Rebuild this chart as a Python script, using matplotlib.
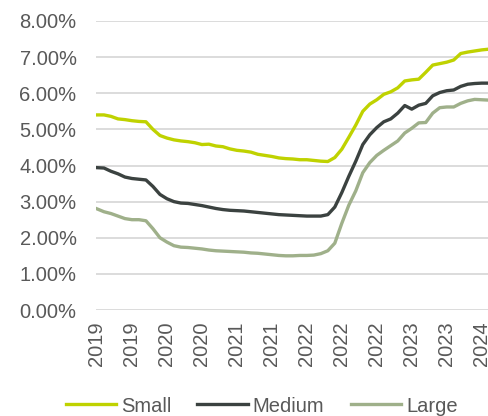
import numpy as np
import matplotlib
matplotlib.use('Agg')
import matplotlib.pyplot as plt

# monthly rates (%), Jul 2019 .. Mar 2024
small = [5.40, 5.40, 5.36, 5.29, 5.27, 5.24, 5.22, 5.21, 5.00, 4.83,
         4.76, 4.71, 4.68, 4.66, 4.63, 4.58, 4.59, 4.54, 4.52, 4.46,
         4.42, 4.40, 4.37, 4.31, 4.28, 4.25, 4.21, 4.19, 4.18, 4.16,
         4.16, 4.14, 4.12, 4.11, 4.22, 4.45, 4.78, 5.12, 5.50, 5.70,
         5.82, 5.97, 6.04, 6.15, 6.34, 6.37, 6.39, 6.58, 6.78, 6.82,
         6.86, 6.92, 7.10, 7.14, 7.17, 7.20, 7.22]
medium = [3.94, 3.93, 3.84, 3.77, 3.68, 3.64, 3.62, 3.60, 3.42, 3.20,
          3.08, 3.00, 2.96, 2.95, 2.92, 2.89, 2.85, 2.81, 2.78, 2.76,
          2.75, 2.74, 2.72, 2.70, 2.68, 2.66, 2.64, 2.63, 2.62, 2.61,
          2.60, 2.60, 2.60, 2.64, 2.85, 3.25, 3.70, 4.12, 4.58, 4.85,
          5.05, 5.21, 5.29, 5.45, 5.66, 5.56, 5.67, 5.72, 5.93, 6.02,
          6.07, 6.09, 6.19, 6.25, 6.27, 6.28, 6.28]
large = [2.80, 2.72, 2.67, 2.60, 2.53, 2.50, 2.50, 2.47, 2.25, 2.00,
         1.88, 1.78, 1.74, 1.73, 1.71, 1.69, 1.66, 1.64, 1.63, 1.62,
         1.61, 1.60, 1.58, 1.57, 1.55, 1.53, 1.51, 1.50, 1.50, 1.51,
         1.51, 1.52, 1.56, 1.64, 1.85, 2.40, 2.90, 3.30, 3.80, 4.08,
         4.28, 4.42, 4.55, 4.68, 4.90, 5.03, 5.18, 5.19, 5.45, 5.60,
         5.62, 5.62, 5.72, 5.79, 5.83, 5.82, 5.81]
tick_labels = ['2019', '2019', '2020', '2020', '2021', '2021',
               '2022', '2022', '2022', '2023', '2023', '2024']

x = np.arange(len(small))
fs = 14.5

fig = plt.figure(figsize=(4.88, 4.16), dpi=100)
ax = fig.add_axes([96/488, 1-310/416, 1-96/488, (310-21)/416])

ax.plot(x, small, color='#bfd200', lw=2.4, label='Small')
ax.plot(x, medium, color='#3b4240', lw=2.4, label='Medium')
ax.plot(x, large, color='#9fb08a', lw=2.4, label='Large')

ax.set_ylim(0, 8)
ax.set_xlim(-0.14, 55.9)
ax.set_yticks(np.arange(0, 9, 1))
ax.set_yticklabels(['%.2f%%' % v for v in range(9)], family='Liberation Sans')
ax.set_xticks(x[::5][:len(tick_labels)])
ax.set_xticklabels(tick_labels, rotation=90, family='Liberation Sans')
ax.tick_params(axis='both', length=0, labelsize=fs, colors='#595959')
ax.tick_params(axis='y', pad=14)
ax.tick_params(axis='x', pad=8)
ax.grid(axis='y', color='#d9d9d9', lw=1.3)
ax.set_axisbelow(True)
for s in ax.spines.values():
    s.set_visible(False)

leg = fig.legend(loc='center', bbox_to_anchor=(0.536, 1-406/416), ncol=3,
                 frameon=False, handlelength=2.5, columnspacing=1.3,
                 handletextpad=0.25, prop={'family': 'Liberation Sans', 'size': fs})
for t in leg.get_texts():
    t.set_color('#595959')

fig.savefig('out.png', dpi=100)
